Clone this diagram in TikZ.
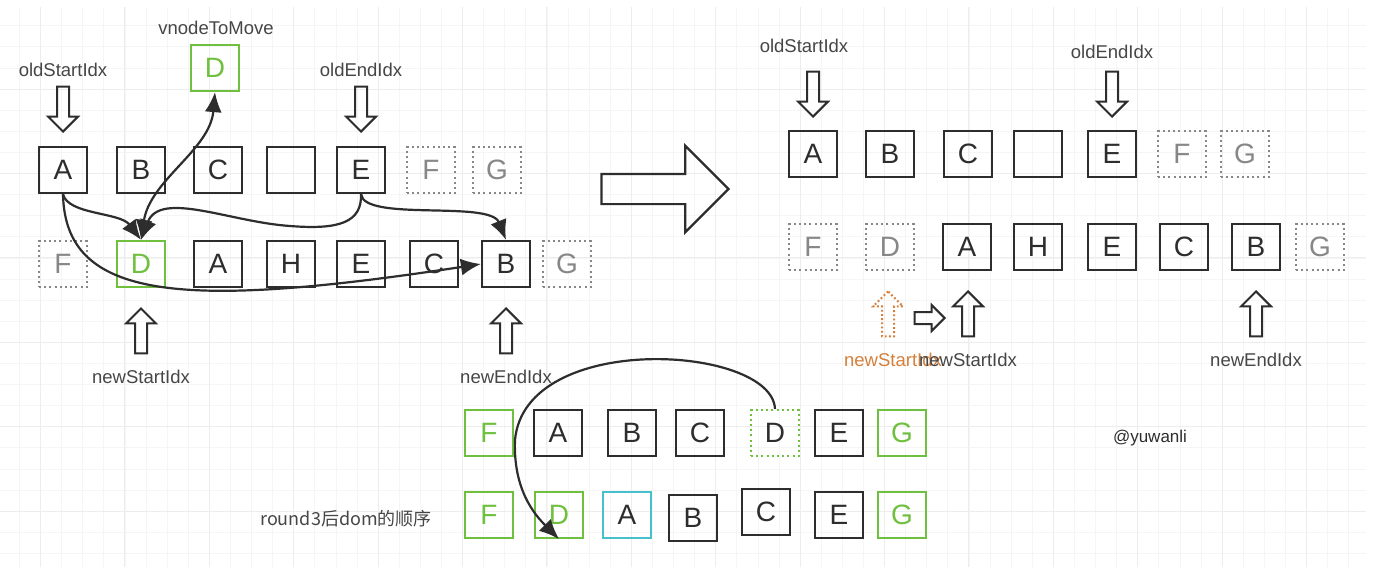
\documentclass[tikz,border=0pt]{standalone}
\usepackage{fontspec}
\setmainfont{Liberation Sans}
\newfontfamily\cjkfont{Noto Sans CJK SC}
\usepackage{tikz}
\usetikzlibrary{arrows.meta, shapes.arrows}

\definecolor{boxline}{RGB}{45,45,45}
\definecolor{ghost}{RGB}{135,135,135}
\definecolor{vgreen}{RGB}{112,192,64}
\definecolor{vcyan}{RGB}{72,192,204}
\definecolor{vorange}{RGB}{212,128,60}
\definecolor{labeltxt}{RGB}{70,70,70}

\begin{document}
\begin{tikzpicture}[x=1pt, y=-1pt,
    vbox/.style={draw=boxline, line width=2.2pt, minimum width=48pt, minimum height=46pt,
        inner sep=0pt, text=boxline, font=\fontsize{28}{28}\selectfont},
    ghostbox/.style={vbox, draw=ghost, text=ghost, dash pattern=on 2pt off 3.2pt},
    greenbox/.style={vbox, draw=vgreen, text=vgreen},
    greenghost/.style={vbox, draw=vgreen, text=boxline, dash pattern=on 2pt off 3.2pt},
    cyanbox/.style={vbox, draw=vcyan},
    idxlabel/.style={text=labeltxt, font=\fontsize{18.5}{18.5}\selectfont},
    idxdown/.style={single arrow, draw=boxline, line width=2pt, inner sep=5pt,
        single arrow head extend=9pt, minimum height=45pt, shape border rotate=270, anchor=tip},
    idxup/.style={idxdown, shape border rotate=90},
    link/.style={draw=boxline, line width=2.2pt, -{Latex[length=20pt, width=17pt]}},
    bilink/.style={link, {Latex[length=20pt, width=17pt]}-{Latex[length=20pt, width=17pt]}},
    gridminor/.style={draw=gray!8, line width=0.8pt, xstep=21.1pt, ystep=21.1pt},
    gridmajor/.style={draw=gray!14, line width=0.9pt, xstep=84.4pt, ystep=84.4pt},
]
    % Fondo y cuadricula
    \fill[white] (0,0) rectangle (1382,578);
    \useasboundingbox (0,0) rectangle (1382,578);
    \draw[gridminor, shift={(-1.7,4.7)}] (1.7,2.3) grid (1367.7,562.3);
    \draw[gridmajor, shift={(-43.9,4.7)}] (43.9,2.3) grid (1409.9,562.3);

    % Lado izquierdo: fila antigua
    \node[vbox] (la) at (63,170) {A};
    \node[vbox] (lb) at (141,170) {B};
    \node[vbox] (lc) at (218,170) {C};
    \node[vbox] (lx) at (291,170) {};
    \node[vbox] (le) at (361,170) {E};
    \node[ghostbox] (lf) at (431,170) {F};
    \node[ghostbox] (lg) at (497,170) {G};
    % Lado izquierdo: fila nueva
    \node[ghostbox] (nf) at (63,264) {F};
    \node[greenbox] (nd) at (141,264) {D};
    \node[vbox] (na) at (218,264) {A};
    \node[vbox] (nh) at (291,264) {H};
    \node[vbox] (ne) at (361,264) {E};
    \node[vbox] (nc) at (434,264) {C};
    \node[vbox] (nb) at (506,264) {B};
    \node[ghostbox] (ng) at (567,264) {G};
    % vnodeToMove
    \node[greenbox] (mv) at (215,68) {D};
    \node[idxlabel] (lblmv) at (216,28) {vnodeToMove};
    % Indices
    \node[idxlabel] (lblos) at (63,70) {oldStartIdx};
    \node[idxdown] (osarr) at (63,133) {};
    \node[idxlabel] (lbloe) at (361,70) {oldEndIdx};
    \node[idxdown] (oearr) at (361,133) {};
    \node[idxup] (nsarr) at (141,307) {};
    \node[idxlabel] (lblns) at (141,377) {newStartIdx};
    \node[idxup] (nearr) at (506,307) {};
    \node[idxlabel] (lblne) at (506,377) {newEndIdx};
    % Conexiones
    \draw[link] (la.south) .. controls (68,215) and (120,212) .. (nd.north);
    \draw[link] (la.south) .. controls (65,300) and (180,310) .. (nb.west);
    \draw[link] (le.south) .. controls (362,222) and (340,230) .. (290,226)
        .. controls (230,222) and (160,190) .. (nd.north);
    \draw[link] (le.south) .. controls (364,222) and (490,200) .. (nb.north);
    \draw[bilink] (nd.north) .. controls (150,180) and (210,150) .. (mv.south);

    % Flecha grande
    \node[single arrow, draw=boxline, line width=2.2pt, inner sep=14pt,
        single arrow head extend=28pt, minimum height=127pt, anchor=tip] (bigarr) at (730,189) {};

    % Lado derecho: fila antigua
    \node[vbox] (ra) at (813,154) {A};
    \node[vbox] (rb) at (890,154) {B};
    \node[vbox] (rc) at (968,154) {C};
    \node[vbox] (rx) at (1038,154) {};
    \node[vbox] (re) at (1112,154) {E};
    \node[ghostbox] (rf) at (1182,154) {F};
    \node[ghostbox] (rg) at (1245,154) {G};
    % Lado derecho: fila nueva
    \node[ghostbox] (sf) at (813,247) {F};
    \node[ghostbox] (sd) at (890,247) {D};
    \node[vbox] (sa) at (967,247) {A};
    \node[vbox] (sh) at (1038,247) {H};
    \node[vbox] (se) at (1112,247) {E};
    \node[vbox] (sc) at (1184,247) {C};
    \node[vbox] (sb) at (1256,247) {B};
    \node[ghostbox] (sg) at (1320,247) {G};
    % Indices
    \node[idxlabel] (rlblos) at (804,46) {oldStartIdx};
    \node[idxdown] (rosarr) at (813,118) {};
    \node[idxlabel] (rlbloe) at (1112,52) {oldEndIdx};
    \node[idxdown] (roearr) at (1112,118) {};
    \node[idxup, draw=vorange, dash pattern=on 1.8pt off 2.4pt] (rnsold) at (888,290) {};
    \node[single arrow, draw=boxline, line width=2pt, inner sep=5pt,
        single arrow head extend=7pt, minimum height=30pt, anchor=tip] (shiftarr) at (946,318) {};
    \node[idxup] (rnsarr) at (968,290) {};
    \node[idxup] (rnearr) at (1256,290) {};
    \node[idxlabel, text=vorange] (rlblnsold) at (893,360) {newStartIdx};
    \node[idxlabel] (rlblns) at (968,360) {newStartIdx};
    \node[idxlabel] (rlblne) at (1256,360) {newEndIdx};

    % Abajo: orden real del DOM
    \node[greenbox] (bf) at (489,433) {F};
    \node[vbox] (ba) at (558,433) {A};
    \node[vbox] (bb) at (632,433) {B};
    \node[vbox] (bc) at (700,433) {C};
    \node[greenghost] (bd) at (775,433) {D};
    \node[vbox] (be) at (839,433) {E};
    \node[greenbox] (bg) at (902,433) {G};
    \node[greenbox] (cf) at (489,515) {F};
    \node[greenbox] (cd) at (559,515) {D};
    \node[cyanbox] (ca) at (627,515) {A};
    \node[vbox] (cb) at (693,518) {B};
    \node[vbox] (cc) at (766,512) {C};
    \node[vbox] (ce) at (839,515) {E};
    \node[greenbox] (cg) at (902,515) {G};
    \node[idxlabel, font=\cjkfont\fontsize{18}{18}\selectfont] (lblround) at (346,519) {round3后dom的顺序};
    \draw[link] (bd.north) .. controls (772,345) and (525,330) .. (515,440)
        .. controls (513,490) and (535,515) .. (cd.south);

    % Firma
    \node[idxlabel, text=boxline, font=\fontsize{17}{17}\selectfont] (sign) at (1150,438) {@yuwanli};
\end{tikzpicture}
\end{document}
